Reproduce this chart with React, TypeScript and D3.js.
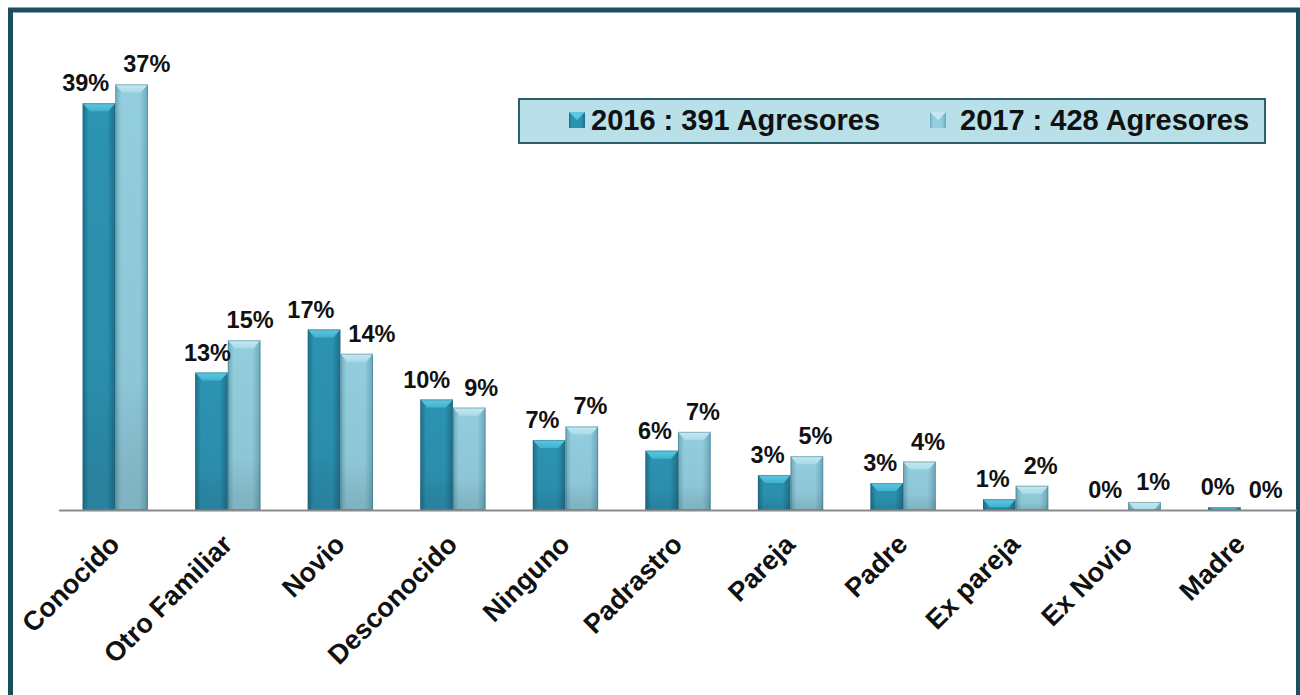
import React from "react";
import * as d3 from "d3";

// categories and series
const categories = [
  "Conocido",
  "Otro Familiar",
  "Novio",
  "Desconocido",
  "Ninguno",
  "Padrastro",
  "Pareja",
  "Padre",
  "Ex pareja",
  "Ex Novio",
  "Madre",
];
const years = ["2016", "2017"];
const legendLabels = ["2016 : 391 Agresores", "2017 : 428 Agresores"];

// bar heights are aggressor counts, labels are the share of each year
const counts2016 = [151, 51, 67, 41, 26, 22, 13, 10, 4, 0, 1];
const counts2017 = [158, 63, 58, 38, 31, 29, 20, 18, 9, 3, 0];
const pct2016 = ["39%", "13%", "17%", "10%", "7%", "6%", "3%", "3%", "1%", "0%", "0%"];
const pct2017 = ["37%", "15%", "14%", "9%", "7%", "7%", "5%", "4%", "2%", "1%", "0%"];

const W = 1300;
const H = 695;
const FONT = "'Liberation Sans', Arial, Helvetica, sans-serif";
const LABEL_SIZE = 23.5;

const palette = {
  "2016": { edge: "#1c6f8b", mid: "#2c93b2", cap: "#5cc8e0", capEdge: "#3fb2cf" },
  "2017": { edge: "#6aa8bc", mid: "#93cede", cap: "#c4e9f2", capEdge: "#a9dbe8" },
};

function labelWidth(t: string) {
  // bold Arial metrics: digits .556em, % .889em
  return ((t.length - 1) * 0.556 + 0.889) * LABEL_SIZE;
}

export default function App() {
  const baseY = 510;
  const x = d3.scaleBand<string>().domain(categories).range([59, 1297]).paddingInner(0.42).paddingOuter(0.21);
  const x1 = d3.scaleBand<string>().domain(years).range([0, x.bandwidth()]);
  const y = d3.scaleLinear().domain([0, 160]).range([baseY, 79]);

  const rows = categories.map((c, i) => {
    const vals = [counts2016[i], counts2017[i]];
    const labs = [pct2016[i], pct2017[i]];
    const bars = years.map((yr, j) => {
      const bx = (x(c) as number) + (x1(yr) as number);
      return { yr, x: bx, w: x1.bandwidth(), top: y(vals[j]), v: vals[j], label: labs[j] };
    });
    // label placement with a simple push apart when they collide
    let lx = [bars[0].x + bars[0].w / 2 - 4, bars[1].x + bars[1].w / 2 + 6];
    const ly = bars.map((b) => b.top - 12);
    const ws = labs.map(labelWidth);
    const need = (ws[0] + ws[1]) / 2 + 14;
    if (Math.abs(ly[0] - ly[1]) < 32 && lx[1] - lx[0] < need) {
      const d = (need - (lx[1] - lx[0])) / 2;
      lx = [lx[0] - d, lx[1] + d];
    }
    return { c, bars, lx, ly };
  });

  const capH = 8;
  const inset = 7;

  return (
    <svg width={W} height={H} style={{ position: "absolute", left: 0, top: 0, background: "#fff" }}>
      <defs>
        {years.map((yr) => {
          const p = palette[yr as "2016" | "2017"];
          return (
            <React.Fragment key={yr}>
              <linearGradient id={`body${yr}`} x1="0" x2="1" y1="0" y2="0">
                <stop offset="0" stopColor={p.edge} />
                <stop offset="0.18" stopColor={p.mid} />
                <stop offset="0.75" stopColor={p.mid} />
                <stop offset="1" stopColor={p.edge} />
              </linearGradient>
              <linearGradient id={`cap${yr}`} x1="0" x2="0" y1="0" y2="1">
                <stop offset="0" stopColor={p.cap} />
                <stop offset="1" stopColor={p.capEdge} />
              </linearGradient>
            </React.Fragment>
          );
        })}
        <linearGradient id="shade" x1="0" x2="0" y1="0" y2="1">
          <stop offset="0" stopColor="#000" stopOpacity="0" />
          <stop offset="0.7" stopColor="#000" stopOpacity="0.04" />
          <stop offset="1" stopColor="#203040" stopOpacity="0.18" />
        </linearGradient>
      </defs>

      {/* frame */}
      <rect x={10.5} y={10} width={1288} height={700} fill="none" stroke="#1b4f5f" strokeWidth={5} />

      {/* bars */}
      {rows.map((r) =>
        r.bars.map((b) => {
          if (b.v <= 0) return null;
          const h = baseY - b.top;
          const ch = Math.min(capH, h);
          const ins = Math.min(inset, b.w / 3);
          return (
            <g key={r.c + b.yr}>
              <rect x={b.x} y={b.top} width={b.w} height={h} fill={`url(#body${b.yr})`} />
              <rect x={b.x} y={b.top} width={b.w} height={h} fill="url(#shade)" />
              <polygon
                points={`${b.x},${b.top} ${b.x + b.w},${b.top} ${b.x + b.w - ins},${b.top + ch} ${b.x + ins},${b.top + ch}`}
                fill={`url(#cap${b.yr})`}
              />
              <rect x={b.x + 0.5} y={b.top + 0.5} width={b.w - 1} height={h - 1} fill="none" stroke="#2b5a68" strokeOpacity={0.35} strokeWidth={1} />
            </g>
          );
        })
      )}

      {/* baseline */}
      <line x1={59} x2={1297} y1={baseY + 0.5} y2={baseY + 0.5} stroke="#8a8a8a" strokeWidth={2} />

      {/* value labels */}
      {rows.map((r) =>
        r.bars.map((b, j) => (
          <text
            key={"l" + r.c + b.yr}
            x={r.lx[j]}
            y={r.ly[j]}
            textAnchor="middle"
            fontFamily={FONT}
            fontWeight="bold"
            fontSize={LABEL_SIZE}
            fill="#111"
          >
            {b.label}
          </text>
        ))
      )}

      {/* category labels */}
      {categories.map((c) => {
        const cx = (x(c) as number) + x.bandwidth() / 2;
        return (
          <text
            key={"c" + c}
            transform={`translate(${cx + 6},${546}) rotate(-45)`}
            textAnchor="end"
            fontFamily={FONT}
            fontWeight="bold"
            fontSize={27}
            fill="#111"
          >
            {c}
          </text>
        );
      })}

      {/* legend */}
      <rect x={519} y={99} width={746} height={44} fill="#b9dfe8" stroke="#2d5f6d" strokeWidth={2} />
      {years.map((yr, i) => {
        const mx = i === 0 ? 569 : 930;
        const p = palette[yr as "2016" | "2017"];
        return (
          <g key={"lg" + yr}>
            <rect x={mx} y={112} width={16} height={16} fill={`url(#body${yr})`} />
            <polygon points={`${mx},112 ${mx + 16},112 ${mx + 8},120`} fill={p.cap} />
            <text x={mx + (i === 0 ? 22 : 30)} y={130} fontFamily={FONT} fontWeight="bold" fontSize={29} fill="#111">
              {legendLabels[i]}
            </text>
          </g>
        );
      })}
    </svg>
  );
}
